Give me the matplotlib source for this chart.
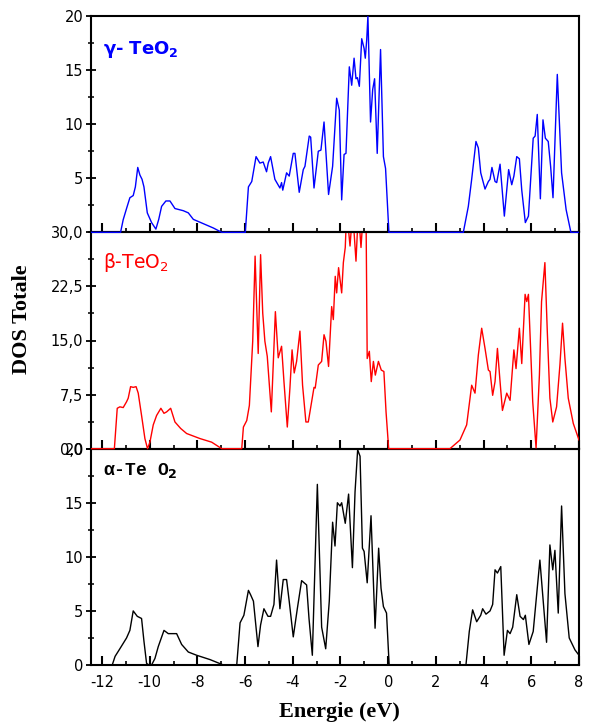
import matplotlib
matplotlib.use("Agg")
import matplotlib.pyplot as plt
from matplotlib.ticker import MultipleLocator, FixedLocator, FixedFormatter
from matplotlib.patches import Rectangle

plt.rcParams['axes.unicode_minus'] = False
plt.rcParams['mathtext.fontset'] = 'dejavusans'

# ---------------- data ----------------
gamma_E = [-12.5, -11.22, -11.11, -10.97, -10.83, -10.69, -10.60, -10.50, -10.41, -10.32, -10.24, -10.10,
           -9.92, -9.74, -9.62, -9.50, -9.32, -9.15, -8.94, -8.59, -8.38, -8.17, -7.75, -7.33, -6.98,
           -5.99, -5.86, -5.72, -5.54, -5.38, -5.24, -5.10, -5.03, -4.93, -4.75, -4.54, -4.47, -4.42,
           -4.26, -4.15, -3.98, -3.91, -3.73, -3.56, -3.49, -3.31, -3.25, -3.11, -2.93, -2.82, -2.69,
           -2.50, -2.33, -2.16, -2.05, -1.95, -1.85, -1.77, -1.63, -1.53, -1.43, -1.35, -1.29, -1.21,
           -1.11, -1.01, -0.96, -0.90, -0.85, -0.74, -0.65, -0.57, -0.46, -0.32, -0.20, -0.11, 0.03,
           3.15, 3.36, 3.50, 3.68, 3.78, 3.88, 4.06, 4.20, 4.27, 4.35, 4.48, 4.55, 4.69, 4.87, 5.05,
           5.18, 5.27, 5.39, 5.50, 5.60, 5.75, 5.88, 6.08, 6.16, 6.25, 6.38, 6.49, 6.59, 6.71, 6.81,
           6.91, 7.09, 7.27, 7.46, 7.66, 8.0]
gamma_D = [0, 0, 1.17, 2.2, 3.2, 3.4, 4.2, 6.0, 5.3, 4.9, 4.2, 1.8,
           0.9, 0.3, 1.2, 2.4, 2.9, 2.9, 2.2, 2.0, 1.8, 1.2, 0.8, 0.4, 0,
           0, 4.2, 4.7, 7.0, 6.4, 6.5, 5.6, 6.4, 7.0, 4.9, 4.1, 4.6, 3.9,
           5.5, 5.2, 7.3, 7.3, 3.7, 5.8, 6.1, 8.9, 8.8, 4.1, 7.5, 7.6, 10.2,
           3.5, 6.1, 12.4, 11.3, 3.0, 7.2, 7.3, 15.3, 13.6, 16.1, 14.2, 14.3, 13.5,
           17.9, 17.0, 16.1, 17.8, 20.0, 10.2, 13.2, 14.2, 7.3, 16.9, 7.0, 5.9, 0,
           0, 2.4, 4.9, 8.4, 7.8, 5.5, 4.0, 4.7, 4.9, 6.0, 4.7, 4.6, 6.3, 1.5, 5.8,
           4.4, 5.2, 7.0, 6.8, 3.9, 0.9, 1.5, 8.7, 8.9, 10.9, 3.1, 10.4, 8.7, 8.4,
           6.1, 3.2, 14.6, 5.5, 2.1, 0, 0]

beta_E = [-12.5, -11.48, -11.36, -11.25, -11.11, -10.97, -10.90, -10.80, -10.69, -10.57, -10.48, -10.34,
          -10.20, -10.09, -9.99, -9.85, -9.71, -9.53, -9.40, -9.29, -9.12, -8.94, -8.70, -8.45, -7.89,
          -7.40, -6.98, -6.14, -6.07, -5.93, -5.82, -5.68, -5.58, -5.45, -5.35, -5.26, -5.17, -5.07,
          -4.90, -4.82, -4.73, -4.61, -4.47, -4.37, -4.23, -4.12, -4.03, -3.94, -3.84, -3.70, -3.59,
          -3.45, -3.35, -3.21, -3.11, -3.06, -2.93, -2.79, -2.69, -2.61, -2.50, -2.37, -2.30, -2.22,
          -2.16, -2.08, -1.95, -1.88, -1.80, -1.74, -1.60, -1.49, -1.35, -1.25, -1.14, -1.04, -0.93,
          -0.88, -0.79, -0.71, -0.62, -0.54, -0.41, -0.29, -0.18, -0.09, 0.02,
          2.59, 3.01, 3.29, 3.50, 3.64, 3.78, 3.92, 4.06, 4.20, 4.27, 4.38, 4.48, 4.58, 4.69, 4.79,
          4.97, 5.11, 5.27, 5.36, 5.50, 5.60, 5.74, 5.81, 5.88, 6.06, 6.20, 6.34, 6.43, 6.57, 6.67,
          6.78, 6.90, 7.06, 7.20, 7.31, 7.41, 7.55, 7.76, 8.0]
beta_D = [0, 0, 5.6, 5.8, 5.7, 6.5, 7.0, 8.6, 8.5, 8.6, 7.7, 4.6,
          1.4, 0, 0.9, 3.3, 4.6, 5.6, 4.9, 5.1, 5.6, 3.7, 2.8, 2.1, 1.4,
          0.9, 0, 0, 3.0, 3.9, 6.0, 14.9, 26.7, 13.2, 26.9, 18.8, 14.9, 12.8,
          5.1, 11.6, 19.0, 12.6, 14.2, 9.3, 3.0, 8.4, 13.7, 10.5, 12.1, 16.3, 8.8,
          3.7, 3.7, 6.5, 8.5, 8.4, 11.6, 12.1, 15.8, 14.9, 11.4, 19.7, 17.9, 23.9,
          21.6, 25.1, 21.6, 25.8, 27.9, 33, 28.1, 33, 26.0, 33, 27.9, 33, 33,
          12.5, 13.5, 9.3, 12.1, 10.2, 12.1, 10.9, 10.7, 5.1, 0,
          0, 1.2, 3.3, 8.8, 7.7, 13.0, 16.7, 13.9, 10.9, 10.7, 7.4, 9.3, 13.9, 9.3,
          5.3, 7.7, 6.7, 13.7, 11.1, 16.7, 11.8, 21.4, 20.4, 21.4, 6.5, 0.1, 10.2, 20.4,
          25.8, 16.3, 7.0, 3.7, 5.8, 11.6, 17.4, 12.5, 7.0, 3.5, 1.2]

alpha_E = [-12.5, -11.57, -11.45, -11.25, -10.97, -10.83, -10.69, -10.52, -10.34, -10.24, -10.13, -10.03,
           -9.92, -9.78, -9.64, -9.40, -9.22, -8.87, -8.66, -8.38, -8.03, -7.47, -6.91, -6.35, -6.21,
           -6.05, -5.86, -5.77, -5.65, -5.46, -5.35, -5.21, -5.04, -4.93, -4.79, -4.68, -4.54, -4.40,
           -4.26, -4.15, -3.98, -3.81, -3.63, -3.42, -3.32, -3.18, -2.97, -2.79, -2.62, -2.47, -2.33,
           -2.23, -2.13, -2.02, -1.95, -1.80, -1.66, -1.50, -1.39, -1.28, -1.18, -1.08, -1.01, -0.88,
           -0.72, -0.55, -0.40, -0.30, -0.20, -0.07, 0.04,
           3.26, 3.40, 3.54, 3.71, 3.88, 3.96, 4.10, 4.27, 4.38, 4.48, 4.58, 4.72, 4.86, 5.00, 5.11,
           5.22, 5.39, 5.53, 5.67, 5.75, 5.90, 6.08, 6.36, 6.64, 6.78, 6.90, 6.99, 7.13, 7.27, 7.41,
           7.59, 7.83, 8.0]
alpha_D = [0, 0, 0.8, 1.5, 2.5, 3.2, 5.0, 4.5, 4.3, 2.2, 0.15, 0,
           0, 0.6, 1.7, 3.2, 2.9, 2.9, 1.9, 1.2, 0.9, 0.5, 0, 0, 3.9,
           4.6, 6.9, 6.5, 5.9, 1.7, 3.7, 5.2, 4.5, 4.5, 5.6, 9.7, 5.2, 7.9,
           7.9, 5.9, 2.6, 5.2, 7.8, 7.4, 4.3, 0.9, 16.7, 3.5, 1.5, 5.9, 13.2,
           11.0, 15.0, 14.7, 15.0, 13.1, 15.8, 9.0, 16.0, 19.9, 19.3, 10.8, 10.5, 7.6,
           13.8, 3.4, 10.8, 7.1, 5.4, 4.8, 0,
           0, 3.1, 5.1, 4.0, 4.6, 5.2, 4.7, 5.0, 5.6, 8.8, 8.5, 9.1, 0.9, 3.2, 2.9,
           3.5, 6.5, 4.5, 4.2, 4.6, 1.9, 3.1, 9.7, 2.1, 11.1, 8.8, 10.6, 4.8, 14.7, 6.6,
           2.5, 1.4, 0.9]

x_ticks = [-12, -10, -8, -6, -4, -2, 0, 2, 4, 6, 8]
top_yticks = [5, 10, 15, 20]
top_ylabels = ['5', '10', '15', '20']
mid_yticks = [0, 7.5, 15, 22.5, 30]
mid_ylabels = ['0,0', '7,5', '15,0', '22,5', '30,0']
bot_yticks = [0, 5, 10, 15, 20]
bot_ylabels = ['0', '5', '10', '15', '20']

# ---------------- figure ----------------
W, H = 589, 726
fig = plt.figure(figsize=(W / 100, H / 100), dpi=100)
left = 91 / W
width = (579 - 91) / W
ptop, pbot = 16, 665
ph = (pbot - ptop) / 3

axes = []
for i in range(3):
    y0 = 1 - (ptop + (i + 1) * ph) / H
    ax = fig.add_axes([left, y0, width, ph / H])
    ax.set_facecolor('none')
    axes.append(ax)
ax1, ax2, ax3 = axes
ax1.set_zorder(3)
ax2.set_zorder(2)
ax3.set_zorder(1)

l1, = ax1.plot(gamma_E, gamma_D, color='#0000ff', lw=1.0, zorder=3)
l2, = ax2.plot(beta_E, beta_D, color='#ff0000', lw=1.0, zorder=3)
l3, = ax3.plot(alpha_E, alpha_D, color='black', lw=1.0, zorder=3)
for ln, ax in [(l1, ax1), (l2, ax2), (l3, ax3)]:
    clip = Rectangle((0, -0.03), 1, 1.03, transform=ax.transAxes, facecolor='none', edgecolor='none')
    ln.set_clip_path(clip)

ax1.set_ylim(0, 20)
ax2.set_ylim(0, 30)
ax3.set_ylim(0, 20)

for ax, yt, yl, minor in [(ax1, top_yticks, top_ylabels, 2.5),
                          (ax2, mid_yticks, mid_ylabels, 3.75),
                          (ax3, bot_yticks, bot_ylabels, 2.5)]:
    ax.set_xlim(-12.46, 8)
    ax.xaxis.set_major_locator(FixedLocator(x_ticks))
    ax.xaxis.set_minor_locator(MultipleLocator(1))
    ax.yaxis.set_major_locator(FixedLocator(yt))
    ax.yaxis.set_major_formatter(FixedFormatter(yl))
    ax.yaxis.set_minor_locator(MultipleLocator(minor))
    for s in ax.spines.values():
        s.set_linewidth(1.5)
    ax.tick_params(axis='x', which='major', direction='in', length=6.2, width=1.5,
                   top=False, bottom=True, pad=7)
    ax.tick_params(axis='x', which='minor', direction='in', length=3, width=1.2,
                   top=False, bottom=True)
    ax.tick_params(axis='y', which='major', direction='inout', length=7, width=1.3,
                   right=False, pad=2)
    ax.tick_params(axis='y', which='minor', direction='inout', length=5, width=1.1,
                   right=False)
    for lab in ax.get_yticklabels():
        lab.set_fontfamily('DejaVu Sans')
        lab.set_fontsize(10.5)
    if ax is not ax3:
        ax.tick_params(axis='x', labelbottom=False)

ax3.set_xticks(x_ticks)
ax3.set_xticklabels([str(v) for v in x_ticks], fontsize=10.5, family='DejaVu Sans')

ax1.text(0.025, 0.825, 'γ- TeO$_\\mathbf{2}$', transform=ax1.transAxes, color='#0000ff',
         fontsize=13, fontweight='bold', family='DejaVu Sans', va='baseline', ha='left')
ax2.text(0.025, 0.833, 'β-TeO$_2$', transform=ax2.transAxes, color='#ff0000',
         fontsize=13.5, family='DejaVu Sans', va='baseline', ha='left')
ax3.text(0.025, 0.88, 'α-Te O$_\\mathbf{2}$', transform=ax3.transAxes, color='black',
         fontsize=13, fontweight='bold', family=['Liberation Mono', 'DejaVu Sans Mono'],
         va='baseline', ha='left')

fig.text(22 / W, 1 - 319 / H, 'DOS Totale', rotation=90, ha='center', va='center',
         fontsize=16, fontweight='bold', family='Liberation Serif')
fig.text(339 / W, 1 - 712 / H, 'Energie (eV)', ha='center', va='center',
         fontsize=16, fontweight='bold', family='Liberation Serif')

fig.savefig('out.png', dpi=100)
